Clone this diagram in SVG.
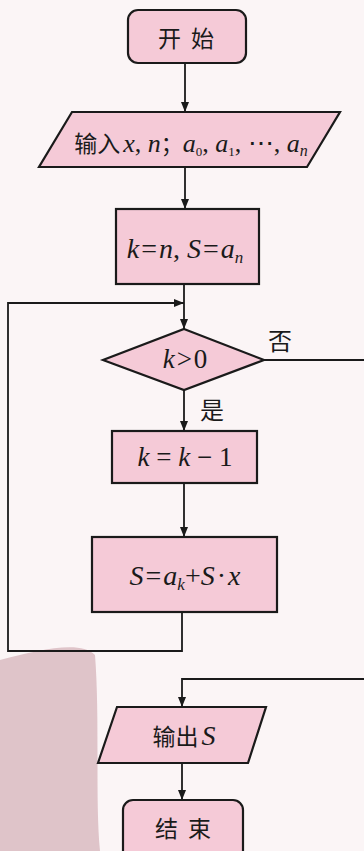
<svg xmlns="http://www.w3.org/2000/svg" width="364" height="851" viewBox="0 0 364 851">
<style>
.node{fill:#f5cad7;stroke:#1a1a1a;stroke-width:2.2}
.edge{fill:none;stroke:#1a1a1a;stroke-width:1.8}
.cn{font-family:"Noto Sans CJK SC","Noto Sans",sans-serif;fill:#1a1a1a}
.m{font-family:"Liberation Serif","Times New Roman",serif;fill:#1a1a1a}
.i{font-style:italic}
</style>
<defs>
<marker id="ah" viewBox="0 0 10 8" refX="10" refY="4" markerWidth="10" markerHeight="8" markerUnits="userSpaceOnUse" orient="auto">
<path d="M0,0 L10,4 L0,8 Z" fill="#1a1a1a"/>
</marker>
</defs>
<rect width="364" height="851" fill="#fbf5f6"/>
<path d="M0,660 C40,650 80,640 95,655 C100,720 95,800 100,851 L0,851 Z" fill="#c99aa4" opacity="0.55"/>
<g id="connectors">
<line class="edge" x1="185" y1="63" x2="185" y2="112" marker-end="url(#ah)"/>
<line class="edge" x1="185" y1="167" x2="185" y2="209" marker-end="url(#ah)"/>
<line class="edge" x1="184" y1="284" x2="184" y2="329" marker-end="url(#ah)"/>
<polyline class="edge" points="182,612 182,651 8,651 8,303 184,303" marker-end="url(#ah)"/>
<line class="edge" x1="184" y1="390" x2="184" y2="431" marker-end="url(#ah)"/>
<line class="edge" x1="184" y1="483" x2="184" y2="537" marker-end="url(#ah)"/>
<line class="edge" x1="264" y1="360" x2="364" y2="360"/>
<polyline class="edge" points="364,679 182,679 182,707" marker-end="url(#ah)"/>
<line class="edge" x1="182" y1="763" x2="182" y2="800" marker-end="url(#ah)"/>
<text class="cn" x="268" y="350" font-size="24">否</text>
<text class="cn" x="200" y="419" font-size="24">是</text>
</g>
<g id="start">
<rect class="node" x="128" y="10" width="118" height="53" rx="10"/>
<text class="cn" x="191" y="47" font-size="23" text-anchor="middle" letter-spacing="10">开始</text>
</g>
<g id="input">
<polygon class="node" points="72,112 340,112 307,167 39,167"/>
<text x="191" y="152" font-size="26" text-anchor="middle"><tspan class="cn" font-size="23">输入</tspan><tspan class="m i" dx="3">x</tspan><tspan class="m">, </tspan><tspan class="m i">n</tspan><tspan class="cn" font-size="22">；</tspan><tspan class="m i">a</tspan><tspan class="m" font-size="13" dy="4">0</tspan><tspan class="m" dy="-4">, </tspan><tspan class="m i">a</tspan><tspan class="m" font-size="13" dy="4">1</tspan><tspan class="m" dy="-4">, ⋯, </tspan><tspan class="m i">a</tspan><tspan class="m i" font-size="16" dy="4">n</tspan></text>
</g>
<g id="init">
<rect class="node" x="116" y="209" width="143" height="75"/>
<text x="185" y="258" font-size="28" text-anchor="middle"><tspan class="m i">k</tspan><tspan class="m" dx="2">=</tspan><tspan class="m i" dx="2">n</tspan><tspan class="m">, </tspan><tspan class="m i">S</tspan><tspan class="m" dx="2">=</tspan><tspan class="m i" dx="2">a</tspan><tspan class="m i" font-size="17" dy="5">n</tspan></text>
</g>
<g id="cond">
<polygon class="node" points="184,329 264,360 184,390 103,360"/>
<text x="185" y="368" font-size="27" text-anchor="middle"><tspan class="m i">k</tspan><tspan class="m" dx="2">&gt;</tspan><tspan class="m" dx="2">0</tspan></text>
</g>
<g id="dec">
<rect class="node" x="112" y="431" width="145" height="52"/>
<text x="185" y="466" font-size="27" text-anchor="middle"><tspan class="m i">k</tspan><tspan class="m"> = </tspan><tspan class="m i">k</tspan><tspan class="m"> − 1</tspan></text>
</g>
<g id="update">
<rect class="node" x="92" y="537" width="185" height="75"/>
<text x="185" y="585" font-size="28" text-anchor="middle"><tspan class="m i">S</tspan><tspan class="m" dx="2">=</tspan><tspan class="m i" dx="2">a</tspan><tspan class="m i" font-size="17" dy="5">k</tspan><tspan class="m" dy="-5">+</tspan><tspan class="m i">S</tspan><tspan class="m" dx="2">·</tspan><tspan class="m i" dx="2">x</tspan></text>
</g>
<g id="output">
<polygon class="node" points="117,707 266,707 248,763 98,763"/>
<text x="184" y="745" text-anchor="middle"><tspan class="cn" font-size="23">输出</tspan><tspan class="m i" font-size="28" dx="3">S</tspan></text>
</g>
<g id="end">
<rect class="node" x="123" y="800" width="120" height="62" rx="10"/>
<text class="cn" x="188" y="837" font-size="23" text-anchor="middle" letter-spacing="10">结束</text>
</g>
</svg>
